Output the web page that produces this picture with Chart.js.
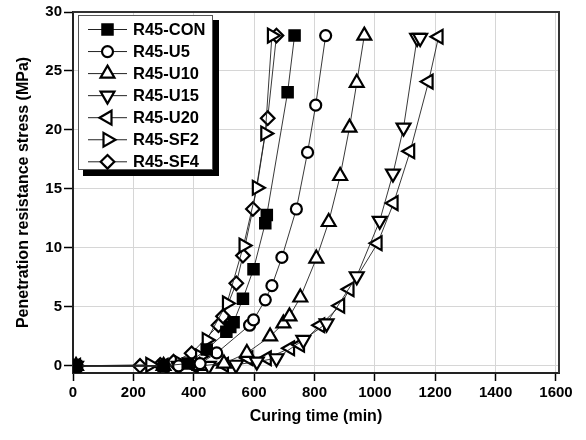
<!DOCTYPE html>
<html>
<head>
<meta charset="utf-8">
<script src="https://cdn.jsdelivr.net/npm/chart.js@4.4.1/dist/chart.umd.min.js"></script>
<style>
  html, body { margin: 0; padding: 0; background: #fff; }
  #wrap { position: relative; width: 586px; height: 440px; }
  #shadow { position: absolute; left: 83px; top: 20px; width: 135px; height: 155px; background: #000; z-index: 0; }
  canvas { display: block; position: absolute; left: 0; top: 0; z-index: 1; }
</style>
</head>
<body>
<div id="wrap">
<div id="shadow"></div>
<canvas id="myChart" width="586" height="440"></canvas>
</div>
<script>
// DATA - curing time (min) vs penetration resistance stress (MPa) //

var conTime = [10, 300, 380, 443, 508, 521, 532, 563, 598, 637, 642, 711, 734];
var conStress = [0, 0, 0.2, 1.4, 2.9, 3.3, 3.7, 5.7, 8.2, 12.1, 12.8, 23.2, 28];

var u5Time = [10, 350, 421, 476, 585, 598, 637, 659, 692, 740, 777, 804, 837];
var u5Stress = [0, 0, 0.2, 1.1, 3.45, 3.9, 5.6, 6.8, 9.2, 13.3, 18.1, 22.1, 28];

var u10Time = [10, 300, 420, 500, 576, 653, 697, 717, 753, 806, 847, 885, 916, 940, 965];
var u10Stress = [0, 0, 0, 0.2, 1.1, 2.5, 3.6, 4.2, 5.8, 9.1, 12.2, 16.1, 20.2, 24.0, 28];

var u15Time = [10, 350, 450, 540, 609, 674, 763, 840, 940, 1016, 1060, 1095, 1140, 1150];
var u15Stress = [0, 0, 0, 0.1, 0.36, 0.65, 2.2, 3.6, 7.6, 12.3, 16.3, 20.2, 27.8, 27.8];

var u20Time = [10, 300, 400, 500, 581, 642, 719, 752, 819, 885, 916, 1009, 1062, 1117, 1178, 1211];
var u20Stress = [0, 0, 0, 0.1, 0.65, 0.65, 1.5, 1.8, 3.45, 5.1, 6.5, 10.4, 13.8, 18.2, 24.1, 27.9];

var sf2Time = [10, 256, 354, 421, 443, 510, 565, 609, 637, 659];
var sf2Stress = [0, 0.1, 0.2, 0.8, 2.2, 5.3, 10.2, 15.1, 19.7, 28];

var sf4Time = [10, 222, 289, 333, 393, 482, 497, 541, 563, 596, 645, 674];
var sf4Stress = [0, 0, 0.1, 0.36, 1.07, 3.45, 4.2, 7.0, 9.35, 13.3, 21.0, 28];

var xTicks = [0, 200, 400, 600, 800, 1000, 1200, 1400, 1600];
var yTicks = [0, 5, 10, 15, 20, 25, 30];

var FONT = '"Liberation Sans", Arial, sans-serif';

function pts(t, v) {
    return t.map(function (x, i) { return { x: x, y: v[i] }; });
}

// marker look per series
var series = [
    { label: 'R45-CON', t: conTime, v: conStress, shape: 'rect', rot: 0, r: 7.3, fill: '#000' },
    { label: 'R45-U5', t: u5Time, v: u5Stress, shape: 'circle', rot: 0, r: 5.5, fill: '#fff' },
    { label: 'R45-U10', t: u10Time, v: u10Stress, shape: 'triangle', rot: 0, r: 8, fill: '#fff' },
    { label: 'R45-U15', t: u15Time, v: u15Stress, shape: 'triangle', rot: 180, r: 8, fill: '#fff' },
    { label: 'R45-U20', t: u20Time, v: u20Stress, shape: 'triangle', rot: 270, r: 8, fill: '#fff' },
    { label: 'R45-SF2', t: sf2Time, v: sf2Stress, shape: 'triangle', rot: 90, r: 8, fill: '#fff' },
    { label: 'R45-SF4', t: sf4Time, v: sf4Stress, shape: 'rectRot', rot: 0, r: 6.8, fill: '#fff' }
];

var datasets = series.map(function (s) {
    return {
        label: s.label,
        data: pts(s.t, s.v),
        showLine: true,
        borderColor: '#222',
        borderWidth: 0.9,
        pointStyle: s.shape,
        rotation: s.rot,
        pointRadius: s.r,
        pointBorderWidth: 2.2,
        pointBorderColor: '#000',
        pointBackgroundColor: s.fill
    };
});

// own marker drawing for the legend box
function drawMarker(ctx, s, x, y) {
    var r = s.r;
    var rad = s.rot * Math.PI / 180;
    ctx.save();
    ctx.beginPath();
    if (s.shape === 'circle') {
        ctx.arc(x, y, r, 0, Math.PI * 2);
    } else if (s.shape === 'rect') {
        var h = r * Math.SQRT1_2;
        ctx.rect(x - h, y - h, 2 * h, 2 * h);
    } else if (s.shape === 'rectRot') {
        ctx.moveTo(x, y - r); ctx.lineTo(x + r, y); ctx.lineTo(x, y + r); ctx.lineTo(x - r, y);
        ctx.closePath();
    } else {
        for (var k = 0; k < 3; k++) {
            var a = rad + k * 2 * Math.PI / 3;
            var px = x + Math.sin(a) * r, py = y - Math.cos(a) * r;
            if (k === 0) ctx.moveTo(px, py); else ctx.lineTo(px, py);
        }
        ctx.closePath();
    }
    ctx.fillStyle = s.fill;
    ctx.fill();
    ctx.lineWidth = 2.2;
    ctx.strokeStyle = '#000';
    ctx.stroke();
    ctx.restore();
}

var framePlugin = {
    id: 'frame',
    beforeDraw: function (chart) {
        // white page behind the plot, leaving a hole where the shadow div shows through
        var ctx = chart.ctx;
        ctx.save();
        ctx.fillStyle = '#fff';
        ctx.fillRect(0, 0, 586, 440);
        ctx.clearRect(213, 20, 6, 156);
        ctx.clearRect(83, 170, 136, 6);
        ctx.restore();
    },
    afterDraw: function (chart) {
        var ctx = chart.ctx, a = chart.chartArea;
        ctx.save();
        ctx.strokeStyle = '#333';
        ctx.lineWidth = 2;
        ctx.beginPath();
        ctx.moveTo(a.left, a.top);
        ctx.lineTo(a.right, a.top);
        ctx.lineTo(a.right, a.bottom);
        ctx.stroke();

        // legend box (shadow band painted too, in case the div is hidden)
        var bx = 78, by = 15, bw = 135, bh = 155;
        ctx.fillStyle = '#000';
        ctx.fillRect(bx + bw, by + 5, 6, bh + 1);
        ctx.fillRect(bx + 5, by + bh, bw + 1, 6);
        ctx.fillStyle = '#fff';
        ctx.fillRect(bx, by, bw, bh);
        ctx.lineWidth = 1;
        ctx.strokeStyle = '#555';
        ctx.strokeRect(bx + 0.5, by + 0.5, bw - 1, bh - 1);

        ctx.font = 'bold 16.5px ' + FONT;
        ctx.textBaseline = 'middle';
        ctx.textAlign = 'left';
        series.forEach(function (s, i) {
            var yy = 29.5 + i * 22.05;
            ctx.strokeStyle = '#222';
            ctx.lineWidth = 1;
            ctx.beginPath();
            ctx.moveTo(88, yy);
            ctx.lineTo(127, yy);
            ctx.stroke();
            drawMarker(ctx, s, 107.5, yy);
            ctx.fillStyle = '#000';
            ctx.fillText(s.label, 133, yy + 1);
        });
        ctx.restore();
    }
};

var ctx = document.getElementById('myChart').getContext('2d');
var chart = new Chart(ctx, {
    type: 'scatter',
    data: { datasets: datasets },
    plugins: [framePlugin],
    options: {
        responsive: false,
        animation: false,
        devicePixelRatio: 1,
        layout: { padding: { top: 12, right: 27, left: 0, bottom: 0 } },
        plugins: {
            legend: { display: false },
            tooltip: { enabled: false }
        },
        scales: {
            x: {
                type: 'linear',
                min: 0,
                max: 1610,
                afterBuildTicks: function (scale) {
                    scale.ticks = xTicks.map(function (v) { return { value: v }; });
                },
                afterFit: function (scale) { scale.height = 67; },
                grid: { color: '#d6d6d6', lineWidth: 1, tickColor: '#000', tickLength: 8, tickWidth: 1.5 },
                border: { color: '#222', width: 2 },
                ticks: {
                    color: '#000',
                    font: { family: FONT, size: 15, weight: 'bold' },
                    padding: 3,
                    maxRotation: 0,
                    callback: function (v) { return String(v); }
                },
                title: {
                    display: true,
                    text: 'Curing time (min)',
                    color: '#000',
                    font: { family: FONT, size: 16, weight: 'bold' },
                    padding: { top: 4, bottom: 14 }
                }
            },
            y: {
                type: 'linear',
                min: -0.6,
                max: 30,
                afterBuildTicks: function (scale) {
                    scale.ticks = yTicks.map(function (v) { return { value: v }; });
                },
                afterFit: function (scale) { scale.width = 73; },
                grid: { color: '#d6d6d6', lineWidth: 1, tickColor: '#000', tickLength: 9, tickWidth: 1.5 },
                border: { color: '#222', width: 2 },
                ticks: {
                    color: '#000',
                    font: { family: FONT, size: 15, weight: 'bold' },
                    padding: 2,
                    callback: function (v) { return String(v); }
                },
                title: {
                    display: true,
                    text: 'Penetration resistance stress (MPa)',
                    color: '#000',
                    font: { family: FONT, size: 16, weight: 'bold' },
                    padding: { top: 14, bottom: 0 }
                }
            }
        }
    }
});
</script>
</body>
</html>
